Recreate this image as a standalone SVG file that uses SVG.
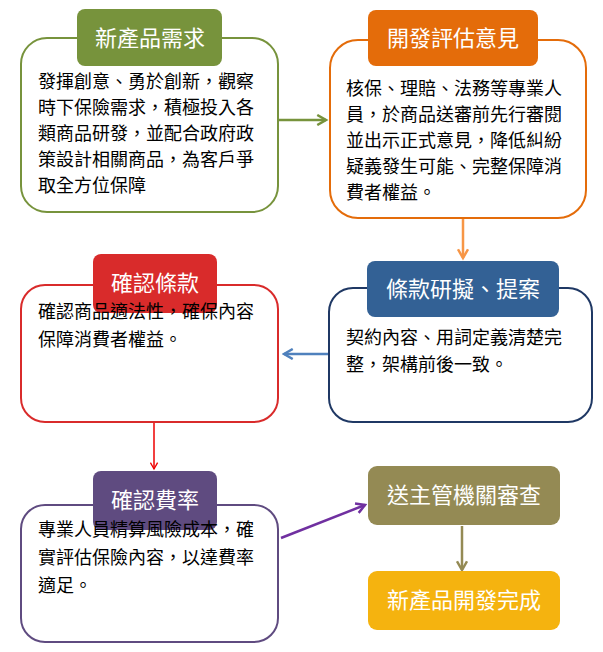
<svg xmlns="http://www.w3.org/2000/svg" width="603" height="652" viewBox="0 0 603 652">
<style>
.b{fill:#fff;stroke-width:2}
.t{font-family:"Noto Sans CJK TC","Noto Sans CJK SC",sans-serif;font-size:18px;fill:#000}
.h{font-family:"Noto Sans CJK TC","Noto Sans CJK SC",sans-serif;font-size:22px;fill:#fff;text-anchor:middle}
.c{fill:none;stroke-width:2.5}
</style>
<defs>
<marker id="ag" viewBox="0 0 10 10" refX="8" refY="5" markerWidth="5" markerHeight="5" orient="auto"><path d="M1,1L8,5L1,9" fill="none" stroke="#77933c" stroke-width="2"/></marker>
<marker id="ao" viewBox="0 0 10 10" refX="8" refY="5" markerWidth="5" markerHeight="5" orient="auto"><path d="M1,1L8,5L1,9" fill="none" stroke="#f79646" stroke-width="2"/></marker>
<marker id="ab" viewBox="0 0 10 10" refX="8" refY="5" markerWidth="5" markerHeight="5" orient="auto"><path d="M1,1L8,5L1,9" fill="none" stroke="#4f81bd" stroke-width="2"/></marker>
<marker id="ar" viewBox="0 0 10 10" refX="8" refY="5" markerWidth="6" markerHeight="6" orient="auto"><path d="M1,1L8,5L1,9" fill="none" stroke="#e00" stroke-width="1.5"/></marker>
<marker id="ap" viewBox="0 0 10 10" refX="8" refY="5" markerWidth="5" markerHeight="5" orient="auto"><path d="M1,1L8,5L1,9" fill="none" stroke="#7030a0" stroke-width="2"/></marker>
<marker id="ak" viewBox="0 0 10 10" refX="8" refY="5" markerWidth="5" markerHeight="5" orient="auto"><path d="M1,1L8,5L1,9" fill="none" stroke="#948a54" stroke-width="2"/></marker>
</defs>
<g id="connectors">
<line class="c" x1="279" y1="120" x2="326" y2="120" stroke="#77933c" marker-end="url(#ag)"/>
<line class="c" x1="463" y1="219" x2="463" y2="258" stroke="#f79646" marker-end="url(#ao)"/>
<line class="c" x1="328" y1="354" x2="284" y2="354" stroke="#4f81bd" marker-end="url(#ab)"/>
<line x1="154" y1="423" x2="154" y2="469" stroke="#e00" stroke-width="1.5" marker-end="url(#ar)"/>
<line class="c" x1="281" y1="538" x2="365" y2="505" stroke="#7030a0" marker-end="url(#ap)"/>
<line class="c" x1="462" y1="526" x2="462" y2="570" stroke="#948a54" marker-end="url(#ak)"/>
</g>
<g id="n1">
<rect class="b" x="21" y="38" width="257" height="174" rx="26" stroke="#77933c"/>
<rect x="77" y="9" width="145" height="57" rx="8" fill="#77933c"/>
<text class="h" x="150" y="46">新產品需求</text>
<text class="t" x="38" y="88">發揮創意、勇於創新，觀察</text>
<text class="t" x="38" y="114">時下保險需求，積極投入各</text>
<text class="t" x="38" y="140">類商品研發，並配合政府政</text>
<text class="t" x="38" y="166">策設計相關商品，為客戶爭</text>
<text class="t" x="38" y="192">取全方位保障</text>
</g>
<g id="n2">
<rect class="b" x="330" y="40" width="256" height="178" rx="28" stroke="#e46c0a"/>
<rect x="368" y="10" width="170" height="56" rx="8" fill="#e46c0a"/>
<text class="h" x="453" y="46">開發評估意見</text>
<text class="t" x="346" y="95">核保、理賠、法務等專業人</text>
<text class="t" x="346" y="121">員，於商品送審前先行審閱</text>
<text class="t" x="346" y="147">並出示正式意見，降低糾紛</text>
<text class="t" x="346" y="173">疑義發生可能、完整保障消</text>
<text class="t" x="346" y="199">費者權益。</text>
</g>
<g id="n3">
<rect class="b" x="21" y="285" width="257" height="137" rx="24" stroke="#d92b2b"/>
<rect x="93" y="254" width="124" height="59" rx="8" fill="#d92b2b"/>
<text class="h" x="155" y="291">確認條款</text>
<text class="t" x="38" y="318">確認商品適法性，確保內容</text>
<text class="t" x="38" y="346">保障消費者權益。</text>
</g>
<g id="n4">
<rect class="b" x="329" y="288" width="263" height="134" rx="24" stroke="#1f3864"/>
<rect x="367" y="261" width="192" height="56" rx="8" fill="#336195"/>
<text class="h" x="463" y="297">條款研擬、提案</text>
<text class="t" x="346" y="344">契約內容、用詞定義清楚完</text>
<text class="t" x="346" y="371">整，架構前後一致。</text>
</g>
<g id="n5">
<rect class="b" x="21" y="505" width="257" height="137" rx="24" stroke="#5f4b80"/>
<rect x="93" y="471" width="124" height="59" rx="8" fill="#5f4b80"/>
<text class="h" x="155" y="508">確認費率</text>
<text class="t" x="38" y="612" dy="-76">專業人員精算風險成本，確</text>
<text class="t" x="38" y="564">實評估保險內容，以達費率</text>
<text class="t" x="38" y="592">適足。</text>
</g>
<g id="n6">
<rect x="368" y="466" width="192" height="59" rx="9" fill="#948a54"/>
<text class="h" x="464" y="503">送主管機關審查</text>
</g>
<g id="n7">
<rect x="368" y="571" width="192" height="59" rx="9" fill="#f5b30f"/>
<text class="h" x="464" y="608">新產品開發完成</text>
</g>
</svg>
